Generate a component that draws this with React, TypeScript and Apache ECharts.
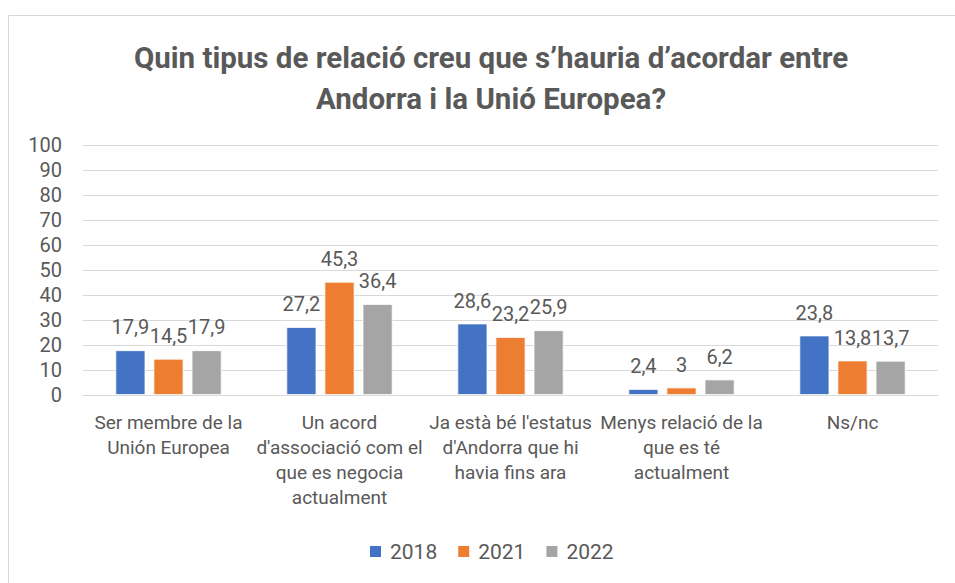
import React, { useEffect, useRef } from "react";
import * as echarts from "echarts";

const categories = [
  "Ser membre de la\nUnión Europea",
  "Un acord\nd'associació com el\nque es negocia\nactualment",
  "Ja està bé l'estatus\nd'Andorra que hi\nhavia fins ara",
  "Menys relació de la\nque es té\nactualment",
  "Ns/nc",
];
const s2018 = [17.9, 27.2, 28.6, 2.4, 23.8];
const s2021 = [14.5, 45.3, 23.2, 3, 13.8];
const s2022 = [17.9, 36.4, 25.9, 6.2, 13.7];
const seriesNames = ["2018", "2021", "2022"];
const colors = ["#4472C4", "#ED7D31", "#A5A5A5"];
const title = "Quin tipus de relació creu que s’hauria d’acordar entre\nAndorra i la Unió Europea?";

const FONT = "Roboto, 'Noto Sans', sans-serif";
const TXT = "#595959";

export default function App() {
  const ref = useRef<HTMLDivElement>(null);
  useEffect(() => {
    const chart = echarts.init(ref.current!, null, { renderer: "svg" });
    const data = [s2018, s2021, s2022];
    chart.setOption({
      animation: false,
      textStyle: { fontFamily: FONT },
      title: {
        text: title,
        left: 486,
        textAlign: "center",
        top: 32,
        textStyle: {
          fontFamily: FONT,
          fontSize: 29.5,
          fontWeight: "bold",
          color: TXT,
          lineHeight: 41,
        },
      },
      graphic: [
        {
          type: "rect",
          shape: { x: 8.5, y: 15.5, width: 980, height: 600 },
          style: { fill: "none", stroke: "#D9D9D9", lineWidth: 1 },
          silent: true,
        },
      ],
      legend: {
        bottom: 16,
        left: 363,
        itemWidth: 13,
        itemHeight: 13,
        itemGap: 19,
        icon: "rect",
        textStyle: { fontSize: 21, color: TXT, fontFamily: FONT, padding: [0, 0, 0, 3] },
        data: seriesNames,
      },
      grid: { left: 83, right: 17, top: 145, bottom: 188 },
      xAxis: {
        type: "category",
        data: categories,
        axisLine: { lineStyle: { color: "#D9D9D9", width: 1 } },
        axisTick: { show: false },
        axisLabel: {
          color: TXT,
          fontSize: 19,
          lineHeight: 25,
          margin: 15,
          interval: 0,
          fontFamily: FONT,
        },
      },
      yAxis: {
        type: "value",
        min: 0,
        max: 100,
        interval: 10,
        axisLine: { show: false },
        axisTick: { show: false },
        splitLine: { lineStyle: { color: "#D9D9D9", width: 1 } },
        axisLabel: { color: TXT, fontSize: 20, margin: 21, fontFamily: FONT },
      },
      series: data.map((d, i) => ({
        name: seriesNames[i],
        type: "bar",
        data: d,
        barWidth: 30,
        barGap: "27%",
        itemStyle: { color: colors[i], borderColor: "#FFFFFF", borderWidth: 0.8 },
        label: {
          show: true,
          position: "top",
          distance: 13,
          color: TXT,
          fontSize: 20,
          fontFamily: FONT,
          formatter: (p: any) => String(p.value).replace(".", ","),
        },
      })),
    });
    return () => chart.dispose();
  }, []);
  return (
    <div
      ref={ref}
      style={{ position: "fixed", left: 0, top: 0, width: 955, height: 583, background: "#fff" }}
    />
  );
}
